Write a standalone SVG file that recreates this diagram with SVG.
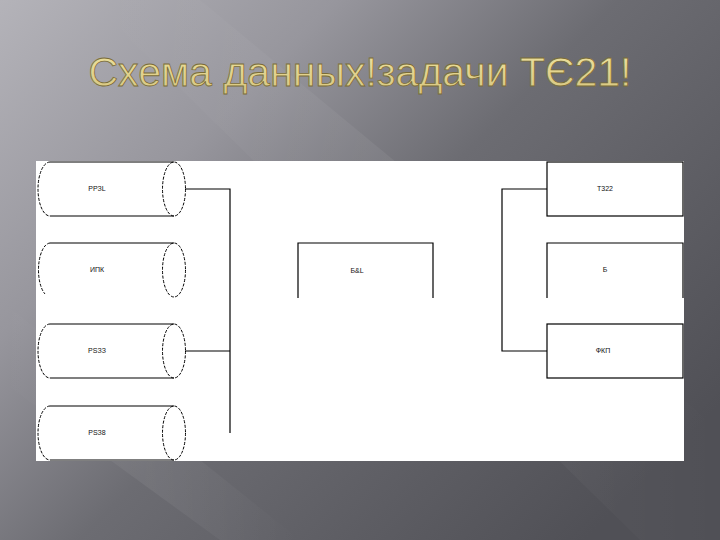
<svg xmlns="http://www.w3.org/2000/svg" width="720" height="540" viewBox="0 0 720 540">
  <defs>
    <linearGradient id="bg" x1="0" y1="0" x2="1" y2="0.75">
      <stop offset="0" stop-color="#b4b3b9"/>
      <stop offset="0.3" stop-color="#97969d"/>
      <stop offset="0.55" stop-color="#6c6c72"/>
      <stop offset="1" stop-color="#505056"/>
    </linearGradient>
    <linearGradient id="streak" x1="0" y1="0" x2="1" y2="0">
      <stop offset="0" stop-color="#ffffff" stop-opacity="0"/>
      <stop offset="0.5" stop-color="#ffffff" stop-opacity="0.12"/>
      <stop offset="1" stop-color="#ffffff" stop-opacity="0"/>
    </linearGradient>
    <linearGradient id="gold" x1="0" y1="0" x2="0" y2="1">
      <stop offset="0" stop-color="#efe3a0"/>
      <stop offset="1" stop-color="#d6c47e"/>
    </linearGradient>
  </defs>
  <style>
    .ln{fill:none;stroke:#000;stroke-width:1.2}
    .ds{fill:none;stroke:#000;stroke-width:1;stroke-dasharray:3 1.5}
    .lb{font-family:"Liberation Sans Narrow","Liberation Sans",Arial,sans-serif;font-size:7px;fill:#111;text-anchor:middle;dominant-baseline:middle}
    .title{font-family:"Liberation Sans",Arial,sans-serif;font-size:41px;fill:url(#gold);stroke:#7a6c38;stroke-width:0.8;text-anchor:middle}
  </style>
  <rect width="720" height="540" fill="url(#bg)"/>
  <polygon points="90,0 200,0 720,430 720,540 640,540" fill="url(#streak)" opacity="0.5"/>
  <polygon points="0,300 0,380 220,540 300,540" fill="url(#streak)" opacity="0.5"/>
  <text class="title" x="360" y="86" textLength="543" lengthAdjust="spacingAndGlyphs">Схема данных!задачи ТЄ21!</text>
  <rect x="36" y="161" width="648" height="300" fill="#ffffff"/>

  <g id="connectors">
    <path class="ln" d="M185,189 H230 V433"/>
    <path class="ln" d="M185,351 H230"/>
    <path class="ln" d="M547,189 H502 V351 H547"/>
  </g>

  <g id="cyl1">
    <path class="ln" d="M50,162 H174 M50,216 H174"/>
    <path class="ds" d="M50,162 A12,27 0 0 0 50,216"/>
    <ellipse class="ds" cx="174" cy="189" rx="11.5" ry="27"/>
    <text class="lb" x="97" y="189">РРЗL</text>
  </g>
  <g id="cyl2">
    <path class="ln" d="M50,243 H174"/>
    <path class="ds" d="M50,243 A12,27 0 0 0 45,294"/>
    <ellipse class="ds" cx="174" cy="270" rx="11.5" ry="27"/>
    <text class="lb" x="97" y="270">ИПК</text>
  </g>
  <g id="cyl3">
    <path class="ln" d="M50,324 H174 M50,378 H174"/>
    <path class="ds" d="M50,324 A12,27 0 0 0 50,378"/>
    <ellipse class="ds" cx="174" cy="351" rx="11.5" ry="27"/>
    <text class="lb" x="97" y="351">РSЗЗ</text>
  </g>
  <g id="cyl4">
    <path class="ln" d="M50,406 H174 M50,460 H174"/>
    <path class="ds" d="M50,406 A12,27 0 0 0 50,460"/>
    <ellipse class="ds" cx="174" cy="433" rx="11.5" ry="27"/>
    <text class="lb" x="97" y="433">РSЗ8</text>
  </g>

  <g id="center">
    <path class="ln" d="M298,298 V243 H433 V298"/>
    <text class="lb" x="357" y="271">Б&amp;L</text>
  </g>

  <g id="box1">
    <rect class="ln" x="547" y="162" width="136" height="54"/>
    <text class="lb" x="605" y="189">Т322</text>
  </g>
  <g id="box2">
    <path class="ln" d="M547,298 V243 H683 V298"/>
    <text class="lb" x="605" y="270">Б</text>
  </g>
  <g id="box3">
    <rect class="ln" x="547" y="324" width="136" height="54"/>
    <text class="lb" x="603" y="351">ФКП</text>
  </g>
</svg>
